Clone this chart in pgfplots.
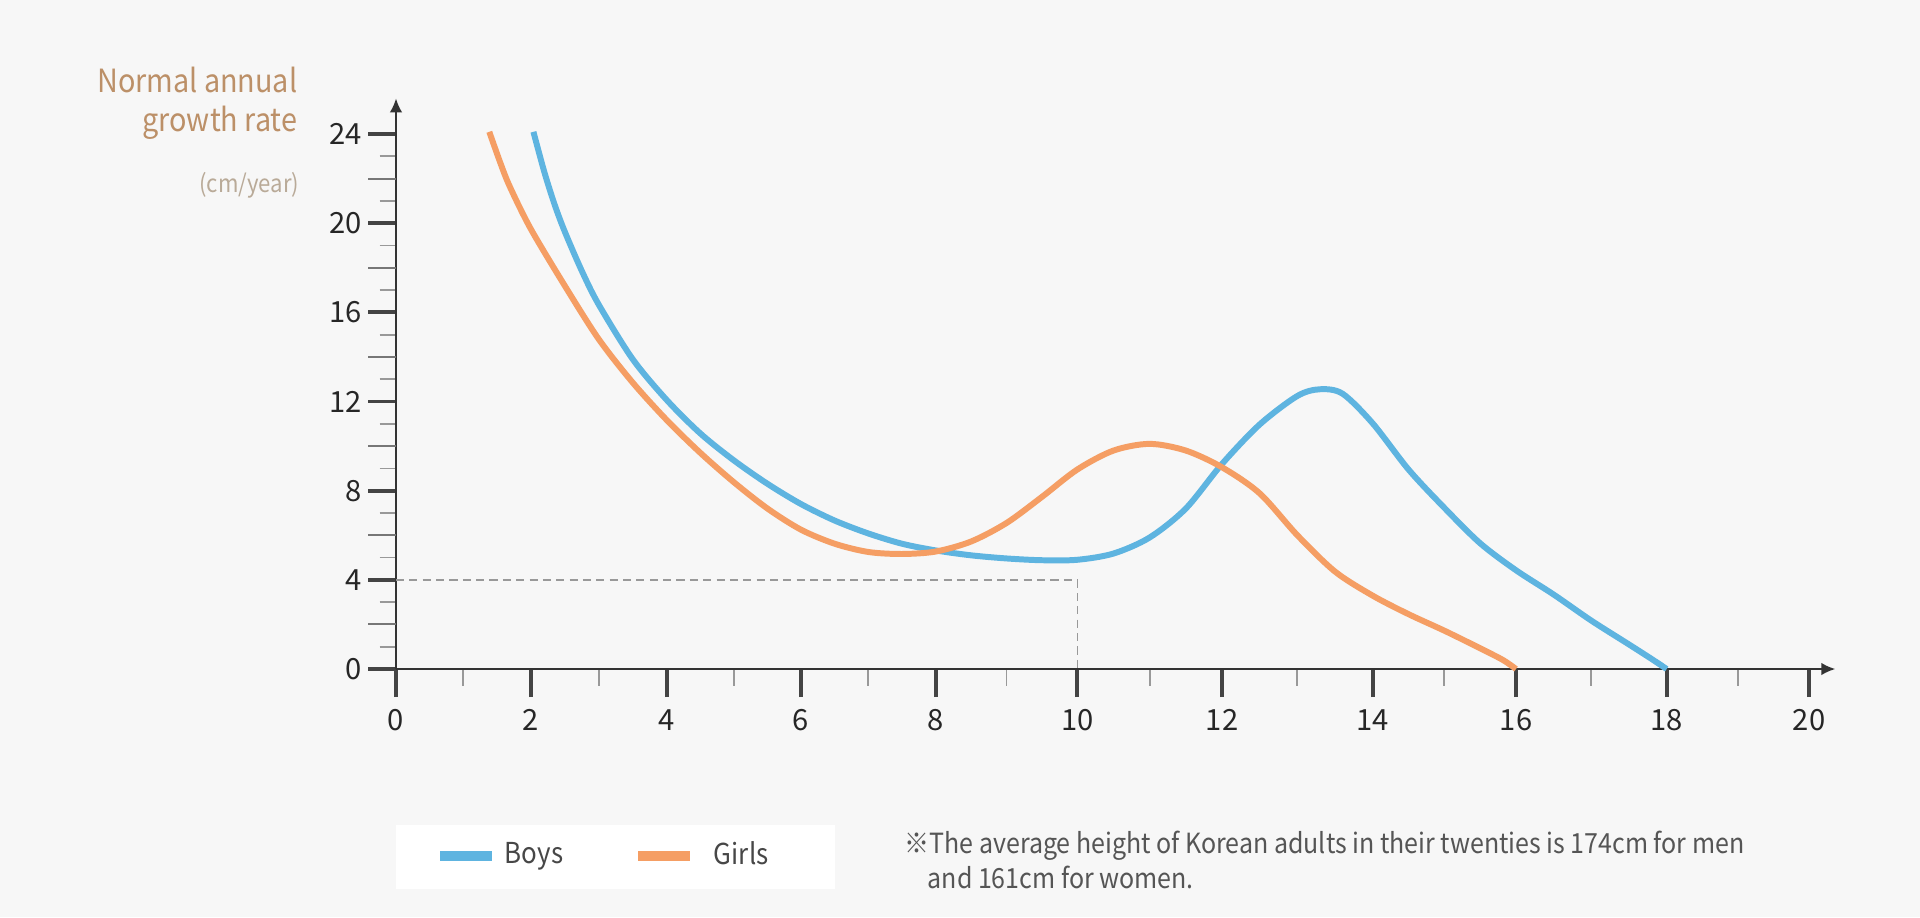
\documentclass[border=0pt]{standalone}
\usepackage{pgfplots}
\pgfplotsset{compat=1.18}
\usepackage{fontspec}
\usetikzlibrary{arrows.meta}
\setmainfont{Noto Sans CJK KR}
\newfontfamily\narrow{Noto Sans CJK KR}[FakeStretch=0.9]
\definecolor{bg}{HTML}{F7F7F7}
\definecolor{axiscol}{HTML}{333333}
\definecolor{tickdark}{HTML}{444444}
\definecolor{tickmid}{HTML}{777777}
\definecolor{tickminor}{HTML}{999999}
\definecolor{boys}{RGB}{94,180,224}
\definecolor{girls}{RGB}{245,158,100}
\definecolor{titlecol}{RGB}{188,144,104}
\definecolor{unitcol}{RGB}{185,170,152}
\definecolor{notecol}{HTML}{555555}

\begin{document}
\begin{tikzpicture}
\useasboundingbox (0,0) rectangle (19.2,9.17);
\fill[bg] (0,0) rectangle (19.2,9.17);
% legend panel
\fill[white] (3.96,0.28) rectangle (8.35,0.92);

\begin{axis}[
  at={(3.96cm,2.48cm)}, anchor=south west,
  x=1cm, y=0.2229cm,
  % the age axis of the original is not evenly spaced
  x coord trafo/.code={\pgfmathparse{#1<=2 ? 0.6735*#1 : (#1<=4 ? 1.347+0.68*(#1-2) : (#1<=6 ? 2.707+0.6715*(#1-4) : (#1<=8 ? 4.05+0.6735*(#1-6) : (#1<=10 ? 5.397+0.708*(#1-8) : (#1<=12 ? 6.813+0.7235*(#1-10) : (#1<=14 ? 8.26+0.7535*(#1-12) : (#1<=16 ? 9.767+0.7165*(#1-14) : (#1<=18 ? 11.2+0.7535*(#1-16) : 12.707+0.7115*(#1-18)))))))))}},
  xmin=0, xmax=20.37, ymin=0, ymax=25.6,
  enlargelimits=false, clip=false,
  axis lines=left,
  axis line style={draw=axiscol, line width=0.6pt},
  x axis line style={-{Latex[length=4pt,width=3.6pt]}},
  y axis line style={-{Latex[length=4pt,width=3.6pt]}},
  tick align=outside,
  major tick length=0.28cm, minor tick length=0.165cm,
  major tick style={draw=tickdark, line width=1.1pt},
  minor tick style={draw=tickminor, line width=0.5pt},
  xtick={0,2,4,6,8,10,12,14,16,18,20},
  xticklabels={0,2,4,6,8,10,12,14,16,18,20},
  minor xtick={1,3,5,7,9,11,13,15,17,19},
  ytick={0,4,8,12,16,20,24},
  yticklabels={0,4,8,12,16,20,24},
  minor ytick={1,3,5,7,9,11,13,15,17,19,21,23},
  extra y ticks={2,6,10,14,18,22},
  extra y tick labels={},
  extra y tick style={major tick style={draw=tickmid, line width=0.55pt}},
  tick label style={font=\fontsize{8.3}{10}\selectfont, text=black!85},
  yticklabel style={xshift=0.06cm},
  legend style={at={(0.0271,-0.3277)}, anchor=west, draw=none, fill=none,
    inner sep=0pt, legend columns=2,
    nodes={inner sep=0pt, text width=1.29cm, align=left, text=black!72,
      font=\narrow\fontsize{8.2}{10}\selectfont},
    /tikz/every odd column/.append style={column sep=0.08cm}},
  legend image code/.code={\draw[#1, line width=2.6pt] (0cm,0cm) -- (0.52cm,0cm);},
]
\addplot[forget plot, draw=tickminor, line width=0.45pt, dash pattern=on 2.3pt off 1.5pt]
  coordinates {(0,4) (10,4) (10,0)};

\addplot[boys, line width=1.7pt, smooth] coordinates {
(2.04,24.1) (2.2,22.3) (2.35,20.85) (2.5,19.63) (2.75,17.87) (3.0,16.35)
(3.5,13.9) (4.0,12.07) (4.5,10.57) (5.0,9.36) (5.5,8.31) (6.0,7.4)
(6.5,6.66) (7.0,6.08) (7.5,5.62) (8.0,5.32) (8.5,5.1) (9.0,4.96)
(9.5,4.88) (10.0,4.9) (10.5,5.18) (11.0,5.9) (11.5,7.2) (12.0,9.2)
(12.5,10.97) (13.0,12.25) (13.3,12.55) (13.6,12.35) (14.0,11.02) (14.5,8.95)
(15.0,7.23) (15.5,5.64) (16.0,4.43) (16.5,3.34) (17.0,2.17) (17.5,1.1)
(17.8,0.45) (18,0)};
\addlegendentry{Boys}

\addplot[girls, line width=1.7pt, smooth] coordinates {
(1.385,24.1) (1.55,22.7) (1.69,21.64) (2.0,19.75) (2.5,17.2) (3.0,14.8)
(3.5,12.85) (4.0,11.17) (4.5,9.7) (5.0,8.38) (5.5,7.2) (6.0,6.25)
(6.5,5.62) (7.0,5.25) (7.5,5.16) (8.0,5.27) (8.5,5.72) (9.0,6.55)
(9.5,7.72) (10.0,8.95) (10.5,9.8) (11.0,10.1) (11.5,9.8) (12.0,9.05)
(12.5,7.88) (13.0,6.0) (13.5,4.37) (14.0,3.29) (14.5,2.46) (15.0,1.72)
(15.5,0.93) (15.82,0.4) (16,0)};
\addlegendentry{\hspace*{0.11cm}Girls}
\end{axis}

% axis title
\node[anchor=base east, inner sep=0pt, text=titlecol, font=\narrow\fontsize{9.1}{11}\selectfont] at (2.98,8.25) {Normal annual};
\node[anchor=base east, inner sep=0pt, text=titlecol, font=\narrow\fontsize{9.1}{11}\selectfont] at (2.98,7.86) {growth rate};
\node[anchor=base east, inner sep=0pt, text=unitcol, font=\narrow\fontsize{7}{9}\selectfont] at (3.00,7.25) {(cm/year)};

% footnote
\node[anchor=base west, inner sep=0pt, text=notecol, font=\narrow\fontsize{7.9}{9}\selectfont] at (9.04,0.64) {※The average height of Korean adults in their twenties is 174cm for men};
\node[anchor=base west, inner sep=0pt, text=notecol, font=\narrow\fontsize{7.9}{9}\selectfont] at (9.27,0.29) {and 161cm for women.};
\end{tikzpicture}
\end{document}
